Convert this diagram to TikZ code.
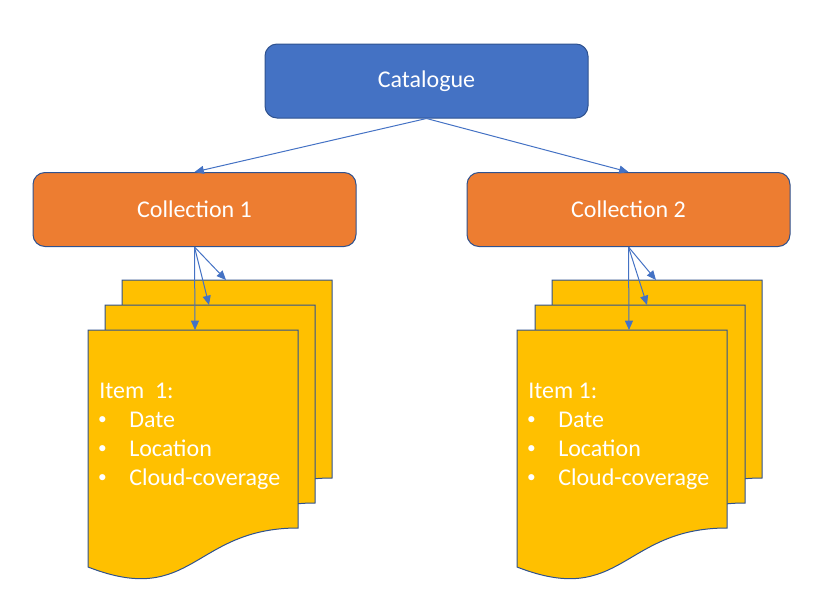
\documentclass[tikz,border=0pt]{standalone}
\usepackage{fontspec}
\setmainfont{Carlito}
\usetikzlibrary{arrows.meta}
\definecolor{cblue}{HTML}{4472C4}
\definecolor{corange}{HTML}{ED7D31}
\definecolor{cyellow}{HTML}{FFC000}
\definecolor{cborder}{HTML}{2F528F}
\tikzset{
  box/.style={rectangle, rounded corners=9pt, draw=cborder, line width=0.75pt,
    minimum width=242.25pt, minimum height=55.5pt, inner sep=0pt,
    text=white, font=\fontsize{18}{21.6}\selectfont},
  catbox/.style={box, fill=cblue},
  colbox/.style={box, fill=corange},
  docshape/.style={fill=cyellow, draw=cborder, line width=0.75pt},
  conn/.style={draw=cblue, line width=0.75pt, -{Triangle[width=6pt,length=7pt]}},
  itemtext/.style={anchor=base west, inner sep=0pt, text=white, font=\fontsize{18}{21.6}\selectfont},
  bullettext/.style={anchor=base, inner sep=0pt, text=white, font=\fontsize{13}{15}\selectfont},
}
\newcommand{\docpath}[2]{% #1 = left x, #2 = top y
  \path[docshape] (#1,#2) -- ++(210,0) -- ++(0,198)
    .. controls +(-105,0) and +(105,41) .. ++(-210,39) -- cycle;
}
\begin{document}
\begin{tikzpicture}[x=0.75pt,y=-0.75pt]
\useasboundingbox (0,0) rectangle (833,611);

\node[catbox] (cat) at (426.5,81) {Catalogue};
\node[colbox] (c1) at (194.5,209.5) {Collection 1};
\node[colbox] (c2) at (628.5,209.5) {Collection 2};

% left stack
\docpath{122}{280}
\docpath{105}{305}
\docpath{88}{330}
\coordinate (l3) at (226,280);
\coordinate (l2) at (209,305);
\coordinate (l1) at (195,330);

% right stack
\docpath{552}{280}
\docpath{535}{305}
\docpath{517}{330}
\coordinate (r3) at (656,280);
\coordinate (r2) at (647,305);
\coordinate (r1) at (629,330);

% texts left
\node[itemtext] (li) at (99,398) {Item\ \ 1:};
\node[bullettext] (lb1) at (102.5,424) {•};
\node[itemtext] (lt1) at (129,427) {Date};
\node[bullettext] (lb2) at (102.5,453) {•};
\node[itemtext] (lt2) at (129,456) {Location};
\node[bullettext] (lb3) at (102.5,482) {•};
\node[itemtext] (lt3) at (129,485) {Cloud-coverage};

% texts right
\node[itemtext] (ri) at (528,398) {Item 1:};
\node[bullettext] (rb1) at (531.5,424) {•};
\node[itemtext] (rt1) at (558,427) {Date};
\node[bullettext] (rb2) at (531.5,453) {•};
\node[itemtext] (rt2) at (558,456) {Location};
\node[bullettext] (rb3) at (531.5,482) {•};
\node[itemtext] (rt3) at (558,485) {Cloud-coverage};

% connectors
\draw[conn] (cat.south) -- (c1.north);
\draw[conn] (cat.south) -- (c2.north);
\draw[conn] (c1.south) -- (l1);
\draw[conn] (c1.south) -- (l2);
\draw[conn] (c1.south) -- (l3);
\draw[conn] (c2.south) -- (r1);
\draw[conn] (c2.south) -- (r2);
\draw[conn] (c2.south) -- (r3);
\end{tikzpicture}
\end{document}
